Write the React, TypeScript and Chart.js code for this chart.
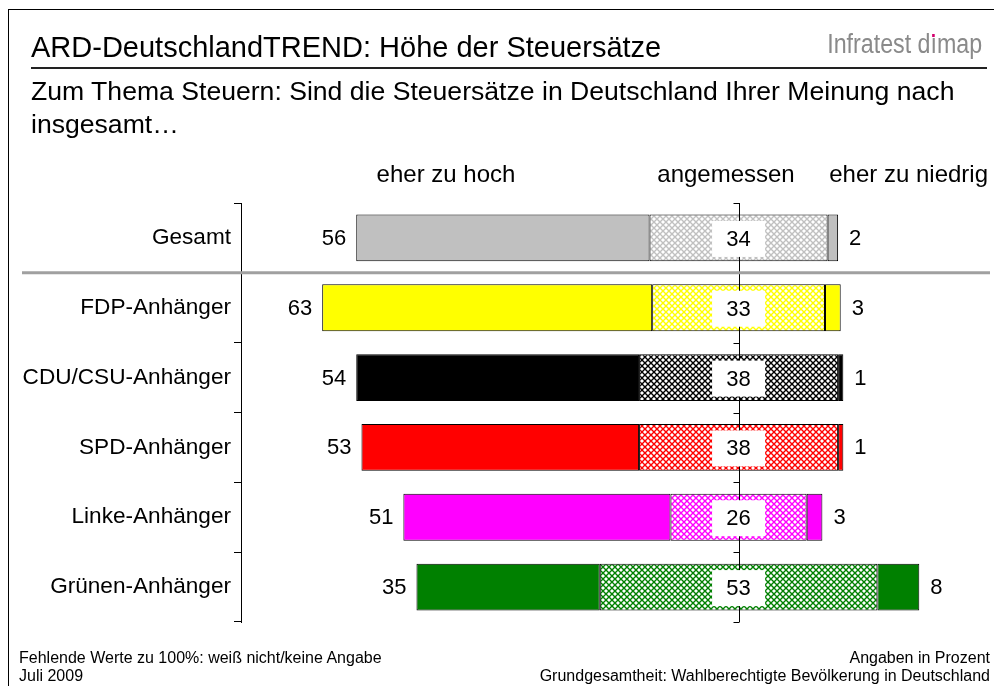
import React, { useEffect, useRef } from "react";
import { Chart, registerables } from "chart.js";

Chart.register(...registerables);

const FONT = "'Liberation Sans', Arial, Helvetica, sans-serif";

const categories = [
  "Gesamt",
  "FDP-Anhänger",
  "CDU/CSU-Anhänger",
  "SPD-Anhänger",
  "Linke-Anhänger",
  "Grünen-Anhänger",
];
const tooHigh = [56, 63, 54, 53, 51, 35];
const appropriate = [34, 33, 38, 38, 26, 53];
const tooLow = [2, 3, 1, 1, 3, 8];
const groupColors = ["#C0C0C0", "#FFFF00", "#000000", "#FF0000", "#FF00FF", "#008000"];
const seriesNames = ["eher zu hoch", "angemessen", "eher zu niedrig"];
const xMin = -95;
const xMax = 48;

function makePattern(color: string): CanvasPattern | string {
  const c = document.createElement("canvas");
  c.width = 6;
  c.height = 6;
  const g = c.getContext("2d");
  if (!g) return color;
  g.fillStyle = "#ffffff";
  g.fillRect(0, 0, 6, 6);
  g.strokeStyle = color;
  g.lineWidth = 1.4;
  g.beginPath();
  g.moveTo(-1, -1);
  g.lineTo(7, 7);
  g.moveTo(-1, 7);
  g.lineTo(7, -1);
  g.stroke();
  const p = g.createPattern(c, "repeat");
  return p || color;
}

const overlayPlugin = {
  id: "overlay",
  afterDatasetsDraw(chart: any) {
    const { ctx, chartArea, scales } = chart;
    const x = scales.x;
    const y = scales.y;
    const cx = Math.round(x.getPixelForValue(0)) + 0.5;
    const step = y.getPixelForValue(1) - y.getPixelForValue(0);
    ctx.save();
    ctx.strokeStyle = "#000";
    ctx.lineWidth = 1;
    ctx.beginPath();
    ctx.moveTo(cx, chartArea.top);
    ctx.lineTo(cx, chartArea.bottom);
    for (let i = 0; i <= categories.length; i++) {
      const yy = Math.round(y.getPixelForValue(0) + (i - 0.5) * step) + 0.5;
      ctx.moveTo(cx - 6, yy);
      ctx.lineTo(cx, yy);
    }
    ctx.stroke();

    const mH = chart.getDatasetMeta(0);
    const mA = chart.getDatasetMeta(1);
    const mL = chart.getDatasetMeta(2);
    ctx.font = `22px ${FONT}`;
    ctx.textBaseline = "middle";
    categories.forEach((_, i) => {
      const bh = mH.data[i];
      const ba = mA.data[i];
      const bl = mL.data[i];
      const cy = bh.y;
      const left = Math.min(bh.x, bh.base);
      const right = Math.max(bl.x, bl.base);
      ctx.fillStyle = "#000";
      ctx.textAlign = "right";
      ctx.fillText(String(tooHigh[i]), left - 10, cy + 1);
      ctx.textAlign = "left";
      ctx.fillText(String(tooLow[i]), right + 11, cy + 1);
      const mx = (ba.x + ba.base) / 2;
      ctx.fillStyle = "#fff";
      ctx.fillRect(mx - 26.5, cy - 17, 53, 36);
      ctx.fillStyle = "#000";
      ctx.textAlign = "center";
      ctx.fillText(String(appropriate[i]), mx, cy + 2);
    });
    ctx.restore();
  },
  afterDraw(chart: any) {
    const { ctx, scales } = chart;
    const y = scales.y;
    const sy = (y.getPixelForValue(0) + y.getPixelForValue(1)) / 2;
    ctx.save();
    ctx.strokeStyle = "#A0A0A0";
    ctx.lineWidth = 3;
    ctx.beginPath();
    ctx.moveTo(22, sy);
    ctx.lineTo(990, sy);
    ctx.stroke();
    ctx.restore();
  },
};

function ChartCanvas() {
  const ref = useRef<HTMLCanvasElement>(null);
  useEffect(() => {
    if (!ref.current) return;
    const hatch = groupColors.map((c) => makePattern(c));
    const common = {
      borderColor: "#000",
      borderWidth: 1,
      borderSkipped: false as const,
      barPercentage: 0.67,
      categoryPercentage: 1,
      stack: "s",
    };
    const chart = new Chart(ref.current, {
      type: "bar",
      data: {
        labels: categories,
        datasets: [
          {
            label: seriesNames[0],
            data: categories.map((_, i) => [-(appropriate[i] / 2 + tooHigh[i]), -appropriate[i] / 2]) as any,
            backgroundColor: groupColors,
            ...common,
          },
          {
            label: seriesNames[1],
            data: categories.map((_, i) => [-appropriate[i] / 2, appropriate[i] / 2]) as any,
            backgroundColor: hatch as any,
            ...common,
          },
          {
            label: seriesNames[2],
            data: categories.map((_, i) => [appropriate[i] / 2, appropriate[i] / 2 + tooLow[i]]) as any,
            backgroundColor: groupColors,
            ...common,
          },
        ],
      },
      options: {
        indexAxis: "y",
        animation: false,
        responsive: false,
        devicePixelRatio: 1,
        layout: { padding: { top: 203, bottom: 64, left: 0, right: 4 } },
        plugins: { legend: { display: false }, tooltip: { enabled: false } },
        scales: {
          x: { type: "linear", min: xMin, max: xMax, display: false, stacked: false },
          y: {
            type: "category",
            stacked: true,
            afterFit(scale: any) {
              scale.width = 241;
            },
            grid: {
              display: true,
              drawOnChartArea: false,
              drawTicks: true,
              tickLength: 7,
              offset: true,
              color: "#000",
              lineWidth: 1,
            },
            border: { display: true, color: "#000", width: 1 },
            ticks: { color: "#000", font: { family: FONT, size: 22.6 }, padding: 3 },
          },
        },
      } as any,
      plugins: [overlayPlugin],
    });
    return () => chart.destroy();
  }, []);
  return (
    <canvas
      ref={ref}
      width={994}
      height={686}
      style={{ position: "absolute", left: 0, top: 0, width: 994, height: 686 }}
    />
  );
}

const abs = (o: React.CSSProperties): React.CSSProperties => ({
  position: "absolute",
  whiteSpace: "nowrap",
  fontFamily: FONT,
  color: "#000",
  ...o,
});

export default function App() {
  return (
    <div
      style={{
        position: "fixed",
        left: 0,
        top: 0,
        width: 994,
        height: 686,
        overflow: "hidden",
        background: "#fff",
      }}
    >
      <div
        style={{
          position: "absolute",
          left: 8,
          top: 9,
          width: 1100,
          height: 800,
          borderLeft: "1px solid #000",
          borderTop: "1px solid #000",
        }}
      />
      <ChartCanvas />
      <div style={abs({ left: 31, top: 33, fontSize: 29, lineHeight: "29px" })}>
        ARD-DeutschlandTREND: Höhe der Steuersätze
      </div>
      <div
        style={abs({
          right: 12,
          top: 31,
          fontSize: 27,
          lineHeight: "27px",
          color: "#8a8a8a",
          transform: "scaleX(0.86)",
          transformOrigin: "right center",
        })}
      >
        Infratest d
        <span style={{ position: "relative" }}>
          ı
          <span
            style={{
              position: "absolute",
              left: "50%",
              marginLeft: -1.5,
              top: 5,
              width: 3,
              height: 3,
              background: "#D4006E",
            }}
          />
        </span>
        map
      </div>
      <div style={{ position: "absolute", left: 31, top: 67, width: 956, height: 2, background: "#222" }} />
      <div style={abs({ left: 31, top: 75, fontSize: 26.6, lineHeight: "33px", whiteSpace: "normal", width: 962 })}>
        Zum Thema Steuern: Sind die Steuersätze in Deutschland Ihrer Meinung nach
        <br />
        insgesamt…
      </div>
      <div style={abs({ left: 446, top: 160, fontSize: 24, lineHeight: "28px", transform: "translateX(-50%)" })}>
        {seriesNames[0]}
      </div>
      <div style={abs({ left: 726, top: 160, fontSize: 24, lineHeight: "28px", transform: "translateX(-50%)" })}>
        {seriesNames[1]}
      </div>
      <div style={abs({ right: 6, top: 160, fontSize: 24, lineHeight: "28px" })}>{seriesNames[2]}</div>
      <div style={abs({ left: 19, top: 649, fontSize: 16, lineHeight: "18px" })}>
        Fehlende Werte zu 100%: weiß nicht/keine Angabe
        <br />
        Juli 2009
      </div>
      <div style={abs({ right: 4, top: 649, fontSize: 16, lineHeight: "18px", textAlign: "right" })}>
        Angaben in Prozent
        <br />
        Grundgesamtheit: Wahlberechtigte Bevölkerung in Deutschland
      </div>
    </div>
  );
}
